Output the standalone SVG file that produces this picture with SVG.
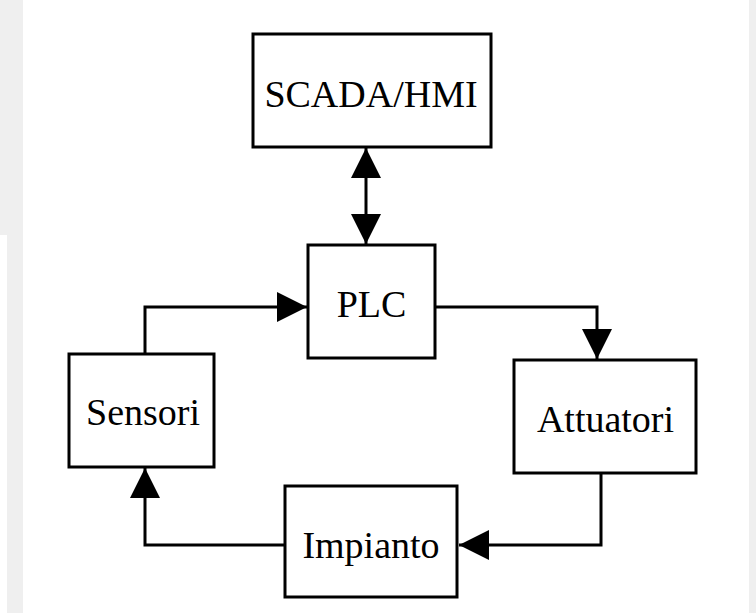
<svg xmlns="http://www.w3.org/2000/svg" width="756" height="613" viewBox="0 0 756 613">
<style>
.box{fill:#ffffff;stroke:#000000;stroke-width:3}
.lbl{font-family:"Liberation Serif","Times New Roman",serif;font-size:38px;fill:#000000;text-anchor:middle}
.edge{fill:none;stroke:#000000;stroke-width:3}
.bg{fill:#efefef}
</style>
<defs>
<marker id="ah" viewBox="0 0 30 30" refX="30" refY="15" markerWidth="30" markerHeight="30" markerUnits="userSpaceOnUse" orient="auto-start-reverse">
<path d="M0,0 L30,15 L0,30 Z" fill="#000000"/>
</marker>
</defs>
<rect width="756" height="613" fill="#ffffff"/>
<rect class="bg" x="0" y="0" width="23" height="235"/>
<rect class="bg" x="7" y="235" width="16" height="378"/>
<rect class="bg" x="749" y="0" width="7" height="613"/>
<g id="connectors">
<path class="edge" d="M366,148 L366,244" marker-start="url(#ah)" marker-end="url(#ah)"/>
<path class="edge" d="M145,354 L145,307 L307,307" marker-end="url(#ah)"/>
<path class="edge" d="M435,307 L597,307 L597,359" marker-end="url(#ah)"/>
<path class="edge" d="M601,473 L601,545 L459,545" marker-end="url(#ah)"/>
<path class="edge" d="M285,545 L145,545 L145,468" marker-end="url(#ah)"/>
</g>
<g id="scada">
<rect class="box" x="253" y="34" width="238" height="113"/>
<text class="lbl" x="371" y="107">SCADA/HMI</text>
</g>
<g id="plc">
<rect class="box" x="308" y="245" width="127" height="113"/>
<text class="lbl" x="371.5" y="317">PLC</text>
</g>
<g id="sensori">
<rect class="box" x="69" y="354" width="145" height="113"/>
<text class="lbl" x="143" y="425">Sensori</text>
</g>
<g id="attuatori">
<rect class="box" x="514" y="360" width="182" height="113"/>
<text class="lbl" x="605.5" y="432">Attuatori</text>
</g>
<g id="impianto">
<rect class="box" x="285" y="486" width="172" height="111"/>
<text class="lbl" x="371" y="558">Impianto</text>
</g>
</svg>
